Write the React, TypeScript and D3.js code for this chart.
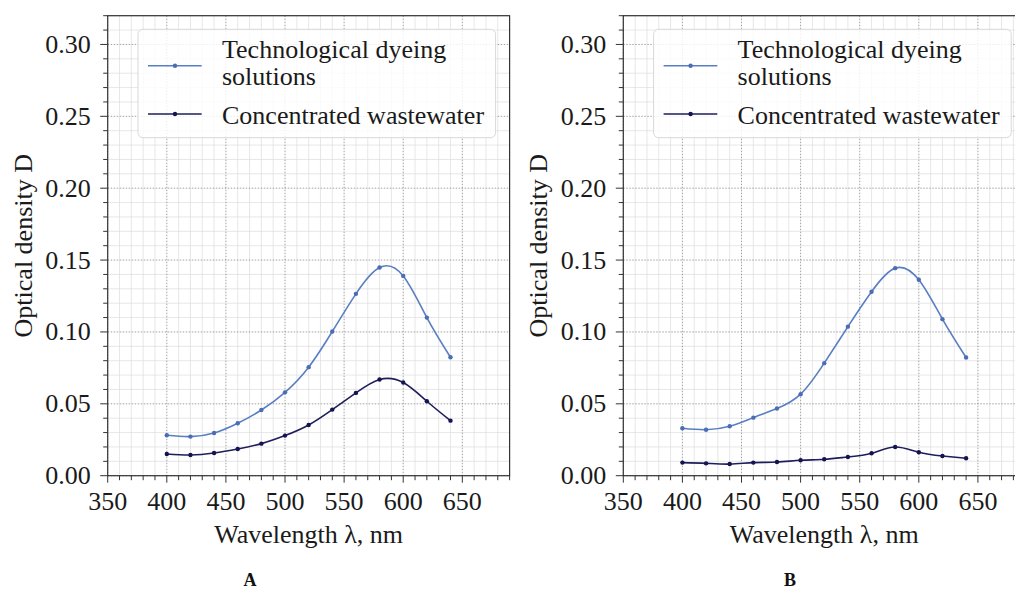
import React from 'react';
import * as d3 from 'd3';

const wavelengths = [400, 420, 440, 460, 480, 500, 520, 540, 560, 580, 600, 620, 640];
const dyeingA = [0.0281, 0.0272, 0.0297, 0.0365, 0.0457, 0.058, 0.0755, 0.1003, 0.1265, 0.1448, 0.139, 0.110, 0.0824];
const wastewaterA = [0.0151, 0.0144, 0.0158, 0.0186, 0.0223, 0.0279, 0.0353, 0.046, 0.0576, 0.0669, 0.0648, 0.0518, 0.0383];
const dyeingB = [0.033, 0.032, 0.0344, 0.0404, 0.0467, 0.0567, 0.0783, 0.1037, 0.128, 0.1444, 0.1363, 0.1089, 0.0822];
const wastewaterB = [0.0091, 0.0086, 0.0081, 0.0091, 0.0095, 0.0107, 0.0114, 0.013, 0.0156, 0.02, 0.0163, 0.0137, 0.0121];

const xTicks = [350, 400, 450, 500, 550, 600, 650];
const xMinorTicks = d3.range(350, 691, 10);
const yTicks = [0, 0.05, 0.1, 0.15, 0.2, 0.25, 0.3];
const yMinorTicks = d3.range(0, 33).map((i) => i / 100);
const seriesNames = ['Technological dyeing', 'solutions', 'Concentrated wastewater'];
const panelLabels = ['A', 'B'];
const xLabel = 'Wavelength λ, nm';
const yLabel = 'Optical density D';

const LIGHT = '#5a7ec3';
const DARK = '#1e1e5c';
const FONT = '"Liberation Serif", "Times New Roman", serif';

type PanelProps = { x0: number; light: number[]; dark: number[]; label: string; labelX: number };

function Panel({ x0, light, dark, label, labelX }: PanelProps) {
  const top = 15.7;
  const bottom = 475.7;
  const width = 401.9;
  const x = d3.scaleLinear().domain([350, 690]).range([x0, x0 + width]);
  const y = d3.scaleLinear().domain([0, 0.32]).range([bottom, top]);
  const line = d3
    .line<number>()
    .x((_, i) => x(wavelengths[i]))
    .y((d) => y(d))
    .curve(d3.curveNatural);
  const isMajorX = (v: number) => xTicks.includes(v);
  const isMajorY = (v: number) => yTicks.some((t) => Math.abs(t - v) < 1e-9);
  const legX = x0 + 30.3;
  return (
    <g>
      {/* minor grid */}
      {xMinorTicks.filter((v) => !isMajorX(v)).map((v) => (
        <line key={'gx' + v} x1={x(v)} x2={x(v)} y1={top} y2={bottom} stroke="#dcdcdc" strokeWidth={0.7} />
      ))}
      {yMinorTicks.filter((v) => !isMajorY(v)).map((v) => (
        <line key={'gy' + v} x1={x0} x2={x0 + width} y1={y(v)} y2={y(v)} stroke="#dcdcdc" strokeWidth={0.7} />
      ))}
      {/* major grid */}
      {xTicks.map((v) => (
        <line key={'Gx' + v} x1={x(v)} x2={x(v)} y1={top} y2={bottom} stroke="#8a8a8a" strokeWidth={0.8} strokeDasharray="1.5,1.5" />
      ))}
      {yTicks.map((v) => (
        <line key={'Gy' + v} x1={x0} x2={x0 + width} y1={y(v)} y2={y(v)} stroke="#8a8a8a" strokeWidth={0.8} strokeDasharray="1.5,1.5" />
      ))}
      {/* series */}
      <path d={line(light) || ''} fill="none" stroke={LIGHT} strokeWidth={1.6} />
      <path d={line(dark) || ''} fill="none" stroke={DARK} strokeWidth={1.6} />
      {light.map((v, i) => (
        <circle key={'l' + i} cx={x(wavelengths[i])} cy={y(v)} r={2.2} fill="#4a6db3" />
      ))}
      {dark.map((v, i) => (
        <circle key={'d' + i} cx={x(wavelengths[i])} cy={y(v)} r={2.2} fill="#141450" />
      ))}
      {/* spines */}
      <rect x={x0} y={top} width={width} height={bottom - top} fill="none" stroke="#333" strokeWidth={1.2} />
      {/* x ticks */}
      {xMinorTicks.map((v) => (
        <line key={'tx' + v} x1={x(v)} x2={x(v)} y1={bottom} y2={bottom + (isMajorX(v) ? 7 : 4.5)} stroke="#333" strokeWidth={1} />
      ))}
      {xTicks.map((v) => (
        <text key={'lx' + v} x={x(v)} y={510} textAnchor="middle" fontSize={26} fontFamily={FONT} fill="#1a1a1a">
          {v}
        </text>
      ))}
      {/* y ticks */}
      {yMinorTicks.map((v) => (
        <line key={'ty' + v} x1={x0} x2={x0 - (isMajorY(v) ? 7.5 : 4.5)} y1={y(v)} y2={y(v)} stroke="#333" strokeWidth={1} />
      ))}
      {yTicks.map((v) => (
        <text key={'ly' + v} x={x0 - 17} y={y(v) + 8.5} textAnchor="end" fontSize={26} fontFamily={FONT} fill="#1a1a1a">
          {v.toFixed(2)}
        </text>
      ))}
      {/* axis labels */}
      <text x={x0 + width / 2} y={543} textAnchor="middle" fontSize={26} fontFamily={FONT} fill="#1a1a1a">
        {xLabel}
      </text>
      <text
        transform={`translate(${x0 - 76},${(top + bottom) / 2}) rotate(-90)`}
        textAnchor="middle"
        fontSize={26}
        fontFamily={FONT}
        fill="#1a1a1a"
      >
        {yLabel}
      </text>
      {/* legend */}
      <rect x={legX} y={29.3} width={357.6} height={108.4} rx={5} fill="#ffffff" fillOpacity={0.82} stroke="#d8d8d8" strokeWidth={1} />
      <line x1={legX + 10} x2={legX + 63.7} y1={65.7} y2={65.7} stroke={LIGHT} strokeWidth={1.6} />
      <circle cx={legX + 37} cy={65.7} r={2.2} fill="#4a6db3" />
      <line x1={legX + 10} x2={legX + 63.7} y1={114} y2={114} stroke={DARK} strokeWidth={1.6} />
      <circle cx={legX + 37} cy={114} r={2.2} fill="#141450" />
      <text x={legX + 84} y={58} fontSize={26} fontFamily={FONT} fill="#1a1a1a">{seriesNames[0]}</text>
      <text x={legX + 84} y={85} fontSize={26} fontFamily={FONT} fill="#1a1a1a">{seriesNames[1]}</text>
      <text x={legX + 84} y={124} fontSize={26} fontFamily={FONT} fill="#1a1a1a">{seriesNames[2]}</text>
      {/* panel label */}
      <text x={labelX} y={586} textAnchor="middle" fontSize={18} fontWeight="bold" fontFamily={FONT} fill="#111">
        {label}
      </text>
    </g>
  );
}

export default function App() {
  return (
    <div style={{ position: 'absolute', left: 0, top: 0, width: 1015, height: 592, overflow: 'hidden', background: '#fff' }}>
      <svg width={1015} height={592} style={{ display: 'block' }}>
        <rect x={0} y={0} width={1015} height={592} fill="#fff" />
        <Panel x0={107.7} light={dyeingA} dark={wastewaterA} label={panelLabels[0]} labelX={250} />
        <Panel x0={623.3} light={dyeingB} dark={wastewaterB} label={panelLabels[1]} labelX={790} />
      </svg>
    </div>
  );
}
